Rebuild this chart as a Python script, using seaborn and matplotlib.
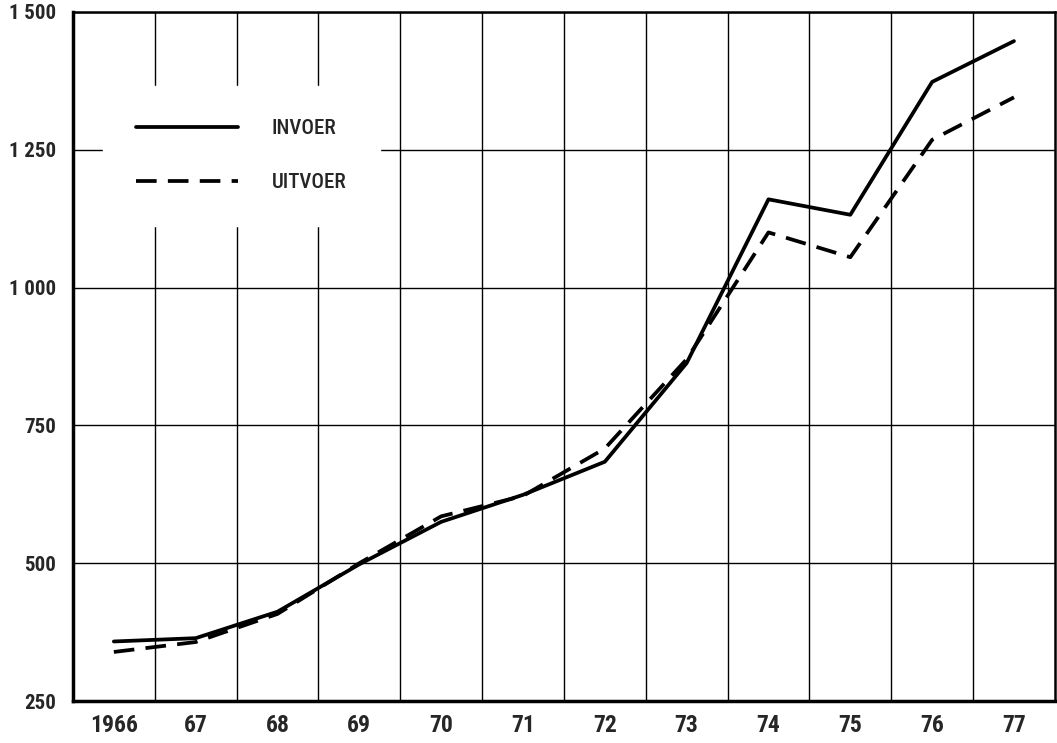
import numpy as np
import pandas as pd
import matplotlib
matplotlib.use("Agg")
from matplotlib import pyplot as plt
from matplotlib.ticker import FixedLocator
import seaborn as sns

# values
years = [1966, 1967, 1968, 1969, 1970, 1971, 1972, 1973, 1974, 1975, 1976, 1977]
invoer = [358, 364, 412, 498, 575, 624, 684, 863, 1160, 1132, 1373, 1447]
uitvoer = [339, 357, 408, 500, 585, 622, 708, 870, 1100, 1055, 1268, 1345]
year_labels = ["1966", "67", "68", "69", "70", "71", "72", "73", "74", "75", "76", "77"]
y_ticks = [250, 500, 750, 1000, 1250, 1500]
y_labels = ["250", "500", "750", "1 000", "1 250", "1 500"]

sns.set_style("white")
plt.rcParams['font.family'] = ['Liberation Sans Narrow', 'Roboto Condensed', 'DejaVu Sans']
plt.rcParams['font.stretch'] = 'condensed'

df = pd.DataFrame({"jaar": years + years,
                   "waarde": invoer + uitvoer,
                   "reeks": ["INVOER"] * len(years) + ["UITVOER"] * len(years)})

fig = plt.figure(figsize=(10.57, 7.43), dpi=100)
ax = fig.add_axes([0.069, 0.0565, 0.929, 0.9275])

sns.lineplot(data=df[df.reeks == "INVOER"], x="jaar", y="waarde", ax=ax,
             color="black", linewidth=2.7, label="INVOER")
sns.lineplot(data=df[df.reeks == "UITVOER"], x="jaar", y="waarde", ax=ax,
             color="black", linewidth=2.7, label="UITVOER", dashes=False)
ax.lines[1].set_dashes((5.5, 3))

ax.set_xlim(years[0] - 0.5, years[-1] + 0.5)
ax.set_ylim(250, 1500)
ax.set_xticks(years)
ax.set_xticklabels(year_labels, fontsize=17, fontweight="bold")
ax.set_yticks(y_ticks)
ax.set_yticklabels(y_labels, fontsize=15, fontweight="bold")
ax.xaxis.set_minor_locator(FixedLocator([y + 0.5 for y in years[:-1]]))
ax.tick_params(axis="both", which="both", length=0)
ax.tick_params(axis="x", pad=9)
ax.tick_params(axis="y", pad=12)
ax.grid(True, axis="x", which="minor", color="black", linewidth=1)
ax.grid(True, axis="y", which="major", color="black", linewidth=1)
ax.set_xlabel("")
ax.set_ylabel("")

for side in ["left", "bottom"]:
    ax.spines[side].set_linewidth(2.5)
for side in ["top", "right"]:
    ax.spines[side].set_linewidth(1.8)
for s in ax.spines.values():
    s.set_color("black")

leg = ax.legend(loc="upper left", bbox_to_anchor=(0.02, 0.908), frameon=True,
                fancybox=False, framealpha=1, edgecolor="white", facecolor="white",
                prop={"size": 15, "weight": "medium"}, handlelength=4.9,
                handletextpad=1.6, labelspacing=1.7, borderpad=1.6)
leg.set_zorder(5)

fig.savefig("out.png", dpi=100)
